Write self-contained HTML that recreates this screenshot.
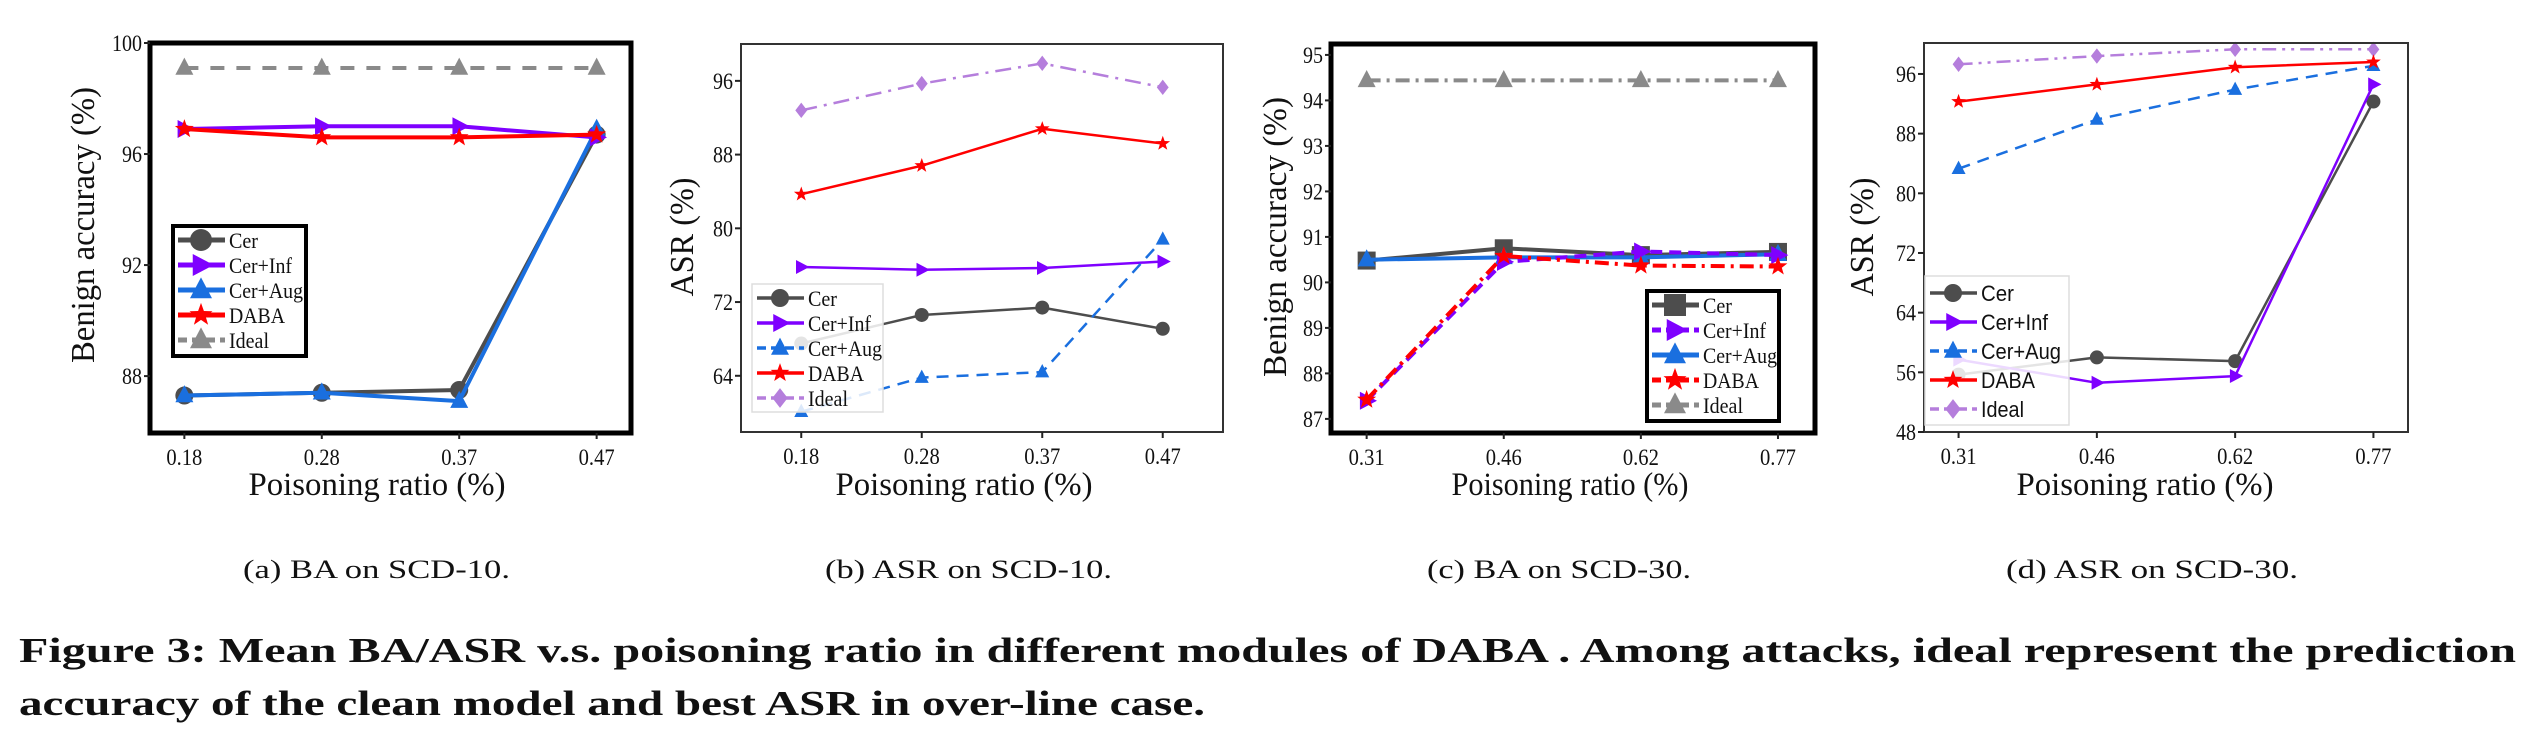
<!DOCTYPE html>
<html><head><meta charset="utf-8">
<style>
html,body{margin:0;padding:0;background:#fff;}
svg{display:block;}
text{font-family:"Liberation Serif","DejaVu Serif",serif;fill:#111;}
</style></head>
<body>
<svg id="fig" width="2538" height="740" viewBox="0 0 2538 740" xmlns="http://www.w3.org/2000/svg" font-family="Liberation Serif, serif">
<g id="panels"></g>
<text x="243" y="578" font-size="26" textLength="267" lengthAdjust="spacingAndGlyphs">(a)  BA on SCD-10.</text>
<text x="825" y="578" font-size="26" textLength="287" lengthAdjust="spacingAndGlyphs">(b)  ASR on SCD-10.</text>
<text x="1427" y="578" font-size="26" textLength="264" lengthAdjust="spacingAndGlyphs">(c)  BA on SCD-30.</text>
<text x="2006" y="578" font-size="26" textLength="292" lengthAdjust="spacingAndGlyphs">(d)  ASR on SCD-30.</text>
<text x="19" y="662" font-size="35" font-weight="bold" textLength="2497" lengthAdjust="spacingAndGlyphs">Figure 3: Mean BA/ASR v.s. poisoning ratio in different modules of DABA . Among attacks, ideal represent the prediction</text>
<text x="19" y="715" font-size="35" font-weight="bold" textLength="1186" lengthAdjust="spacingAndGlyphs">accuracy of the clean model and best ASR in over-line case.</text>
</svg>
<script>
// ---- data ----
const seriesNames = ["Cer","Cer+Inf","Cer+Aug","DABA","Ideal"];
const xLabelsA = ["0.18","0.28","0.37","0.47"];
const xLabelsC = ["0.31","0.46","0.62","0.77"];
// Panel (a) BA on SCD-10
const aCer    = [87.3, 87.4, 87.5, 96.7];
const aCerInf = [96.9, 97.0, 97.0, 96.6];
const aCerAug = [87.3, 87.4, 87.1, 96.9];
const aDABA   = [96.9, 96.6, 96.6, 96.7];
const aIdeal  = [99.1, 99.1, 99.1, 99.1];
const aTicks  = [88, 92, 96, 100];
// Panel (b) ASR on SCD-10
const bCer    = [67.5, 70.6, 71.4, 69.1];
const bCerInf = [75.8, 75.5, 75.7, 76.4];
const bCerAug = [60.1, 63.8, 64.4, 78.8];
const bDABA   = [83.7, 86.8, 90.8, 89.2];
const bIdeal  = [92.8, 95.7, 97.9, 95.3];
const bTicks  = [64, 72, 80, 88, 96];
// Panel (c) BA on SCD-30
const cCer    = [90.48, 90.75, 90.6, 90.67];
const cCerInf = [87.4, 90.45, 90.68, 90.6];
const cCerAug = [90.5, 90.55, 90.55, 90.62];
const cDABA   = [87.42, 90.58, 90.37, 90.35];
const cIdeal  = [94.44, 94.44, 94.44, 94.44];
const cTicks  = [87, 88, 89, 90, 91, 92, 93, 94, 95];
// Panel (d) ASR on SCD-30
const dCer    = [55.7, 58.0, 57.5, 92.3];
const dCerInf = [57.7, 54.6, 55.5, 94.6];
const dCerAug = [83.3, 89.9, 93.9, 97.1];
const dDABA   = [92.3, 94.6, 96.9, 97.6];
const dIdeal  = [97.3, 98.4, 99.3, 99.3];
const dTicks  = [48, 56, 64, 72, 80, 88, 96];

const serifLegendW = {"Cer":29,"Cer+Inf":63,"Cer+Aug":74,"DABA":56,"Ideal":40};
const sansLegendW  = {"Cer":33,"Cer+Inf":67,"Cer+Aug":80,"DABA":54,"Ideal":43};

const NS = "http://www.w3.org/2000/svg";
const root = document.getElementById("panels");
function mk(tag, attrs, parent){
  const e = document.createElementNS(NS, tag);
  for (const k in attrs) e.setAttribute(k, attrs[k]);
  (parent||root).appendChild(e);
  return e;
}
function marker(g, type, x, y, r, color){
  let e;
  if (type==="circle") e = mk("circle",{cx:x,cy:y,r:r,fill:color},g);
  else if (type==="square") e = mk("rect",{x:x-r,y:y-r,width:2*r,height:2*r,fill:color},g);
  else if (type==="tri-up") e = mk("polygon",{points:`${x},${y-r*1.15} ${x-r},${y+r*0.75} ${x+r},${y+r*0.75}`,fill:color},g);
  else if (type==="tri-right") e = mk("polygon",{points:`${x+r*1.15},${y} ${x-r*0.75},${y-r} ${x-r*0.75},${y+r}`,fill:color},g);
  else if (type==="diamond") e = mk("polygon",{points:`${x},${y-r*1.1} ${x+r*0.85},${y} ${x},${y+r*1.1} ${x-r*0.85},${y}`,fill:color},g);
  else if (type==="star"){
    let p=[];
    for(let i=0;i<10;i++){const a=-Math.PI/2+i*Math.PI/5;const rr=i%2?r*0.45:r*1.1;p.push((x+rr*Math.cos(a)).toFixed(1)+","+(y+rr*Math.sin(a)).toFixed(1));}
    e = mk("polygon",{points:p.join(" "),fill:color},g);
  }
  
  
  return e;
}
function panel(cfg){
  const g = mk("g",{});
  
  
  const sx = i => cfg.l + (i - cfg.xlim[0])/(cfg.xlim[1]-cfg.xlim[0])*(cfg.r-cfg.l);
  const sy = v => cfg.b - (v - cfg.ylim[0])/(cfg.ylim[1]-cfg.ylim[0])*(cfg.b-cfg.t);
  cfg.series.forEach(s=>{
    const pts = s.vals.map((v,i)=>sx(i).toFixed(1)+","+sy(v).toFixed(1)).join(" ");
    const pl = mk("polyline",{points:pts,fill:"none",stroke:s.color,"stroke-width":cfg.lw,"stroke-linejoin":"round","stroke-dasharray":s.dash||"none"},g);
    
    
    s.vals.forEach((v,i)=>marker(g,s.m,sx(i),sy(v),cfg.mr,s.color));
  });
  const fr = mk("rect",{x:cfg.l,y:cfg.t,width:cfg.r-cfg.l,height:cfg.b-cfg.t,fill:"none",stroke:cfg.fc,"stroke-width":cfg.fw},g);
  
  
  cfg.yticks.forEach(v=>{
    const y = sy(v);
    mk("line",{x1:cfg.l-6,x2:cfg.l,y1:y,y2:y,stroke:"#222","stroke-width":2},g);
    const s = String(v);
    const t = mk("text",{x:cfg.l-8,y:y+8,"font-size":23,"text-anchor":"end",textLength:s.length*10,lengthAdjust:"spacingAndGlyphs"},g);
    t.textContent = s;
    
    
  });
  cfg.xlabels.forEach((lab,i)=>{
    const x = sx(i);
    mk("line",{x1:x,x2:x,y1:cfg.b,y2:cfg.b+6,stroke:"#222","stroke-width":2},g);
    const t = mk("text",{x:x,y:cfg.b+32,"font-size":23,"text-anchor":"middle",textLength:36,lengthAdjust:"spacingAndGlyphs"},g);
    t.textContent = lab;
    
    
  });
  const xl = mk("text",{x:cfg.xlx,y:495,"font-size":33,"text-anchor":"middle",textLength:cfg.xll,lengthAdjust:"spacingAndGlyphs"},g);
  xl.textContent = "Poisoning ratio (%)";
  
  
  const yl = mk("text",{x:0,y:0,"font-size":34,"text-anchor":"middle",transform:`translate(${cfg.ylx},${cfg.yly}) rotate(-90)`,textLength:cfg.yll,lengthAdjust:"spacingAndGlyphs"},g);
  yl.textContent = cfg.ytitle;
  
  
  const L = cfg.leg;
  const lg = mk("g",{},g);
  
  
  mk("rect",{x:L.x,y:L.y,width:L.w,height:L.h,fill:"rgba(255,255,255,0.85)",stroke:L.stroke,"stroke-width":L.sw},lg);
  const widths = L.sans ? sansLegendW : serifLegendW;
  cfg.series.slice().sort((a,b)=>seriesNames.indexOf(a.name)-seriesNames.indexOf(b.name)).forEach((s,k)=>{
    const y = L.y + L.first + k*L.row;
    mk("line",{x1:L.x+5,x2:L.x+52,y1:y,y2:y,stroke:s.color,"stroke-width":cfg.lw+1,"stroke-dasharray":s.dash?"9,5":"none"},lg);
    marker(lg,s.m,L.x+28,y,cfg.mr+2,s.color);
    const attrs = {x:L.x+56,y:y+8,"font-size":L.fs,textLength:widths[s.name],lengthAdjust:"spacingAndGlyphs"};
    if (L.sans) attrs.style = "font-family:'Liberation Sans',sans-serif";
    const t = mk("text",attrs,lg);
    t.textContent = s.name;
    
    
  });
}
const GRAY="#4d4d4d", PUR="#7f00ff", BLUE="#1a6fdf", RED="#ff0000", IG="#8a8a8a", LAV="#b57edc";
panel({id:"a",l:150,t:43,r:631,b:433,xlim:[-0.25,3.25],ylim:[85.95,100],yticks:aTicks,xlabels:xLabelsA,
  lw:4,mr:9,fc:"#000",fw:5,xlx:377,xll:257,ylx:94,yly:225,yll:276,ytitle:"Benign accuracy (%)",
  leg:{x:173,y:226,w:133,h:130,stroke:"#000",sw:4,first:14,row:25,fs:22},
  series:[{name:"Ideal",vals:aIdeal,color:IG,m:"tri-up",dash:"14,12"},
          {name:"Cer",vals:aCer,color:GRAY,m:"circle"},
          {name:"Cer+Aug",vals:aCerAug,color:BLUE,m:"tri-up"},
          {name:"Cer+Inf",vals:aCerInf,color:PUR,m:"tri-right"},
          {name:"DABA",vals:aDABA,color:RED,m:"star"}]});
panel({id:"b",l:741,t:44,r:1223,b:432,xlim:[-0.5,3.5],ylim:[57.9,100.0],yticks:bTicks,xlabels:xLabelsA,
  lw:2.5,mr:7,fc:"#333",fw:2,xlx:964,xll:257,ylx:693,yly:237,yll:119,ytitle:"ASR (%)",
  leg:{x:752,y:284,w:131,h:128,stroke:"#ddd",sw:1.5,first:14,row:25,fs:22},
  series:[{name:"Ideal",vals:bIdeal,color:LAV,m:"diamond",dash:"16,7,3,7"},
          {name:"DABA",vals:bDABA,color:RED,m:"star"},
          {name:"Cer+Inf",vals:bCerInf,color:PUR,m:"tri-right"},
          {name:"Cer",vals:bCer,color:GRAY,m:"circle"},
          {name:"Cer+Aug",vals:bCerAug,color:BLUE,m:"tri-up",dash:"12,8"}]});
panel({id:"c",l:1331,t:44,r:1815,b:433,xlim:[-0.26,3.27],ylim:[86.69,95.24],yticks:cTicks,xlabels:xLabelsC,
  lw:4,mr:9,fc:"#000",fw:5,xlx:1570,xll:237,ylx:1286,yly:237,yll:280,ytitle:"Benign accuracy (%)",
  leg:{x:1647,y:291,w:132,h:130,stroke:"#000",sw:4,first:14,row:25,fs:22},
  series:[{name:"Ideal",vals:cIdeal,color:IG,m:"tri-up",dash:"14,6,3,6"},
          {name:"Cer",vals:cCer,color:GRAY,m:"square"},
          {name:"Cer+Aug",vals:cCerAug,color:BLUE,m:"tri-up"},
          {name:"Cer+Inf",vals:cCerInf,color:PUR,m:"tri-right",dash:"12,7"},
          {name:"DABA",vals:cDABA,color:RED,m:"star",dash:"14,6,3,6"}]});
panel({id:"d",l:1924,t:43,r:2408,b:432,xlim:[-0.25,3.25],ylim:[48,100.15],yticks:dTicks,xlabels:xLabelsC,
  lw:2.5,mr:7,fc:"#333",fw:2,xlx:2145,xll:257,ylx:1873,yly:237,yll:119,ytitle:"ASR (%)",
  leg:{x:1925,y:276,w:144,h:149,stroke:"#ddd",sw:1.5,first:17,row:29,fs:22,sans:true},
  series:[{name:"Ideal",vals:dIdeal,color:LAV,m:"diamond",dash:"14,6,3,6,3,6"},
          {name:"Cer+Aug",vals:dCerAug,color:BLUE,m:"tri-up",dash:"12,8"},
          {name:"DABA",vals:dDABA,color:RED,m:"star"},
          {name:"Cer",vals:dCer,color:GRAY,m:"circle"},
          {name:"Cer+Inf",vals:dCerInf,color:PUR,m:"tri-right"}]});
</script>
</body></html>
